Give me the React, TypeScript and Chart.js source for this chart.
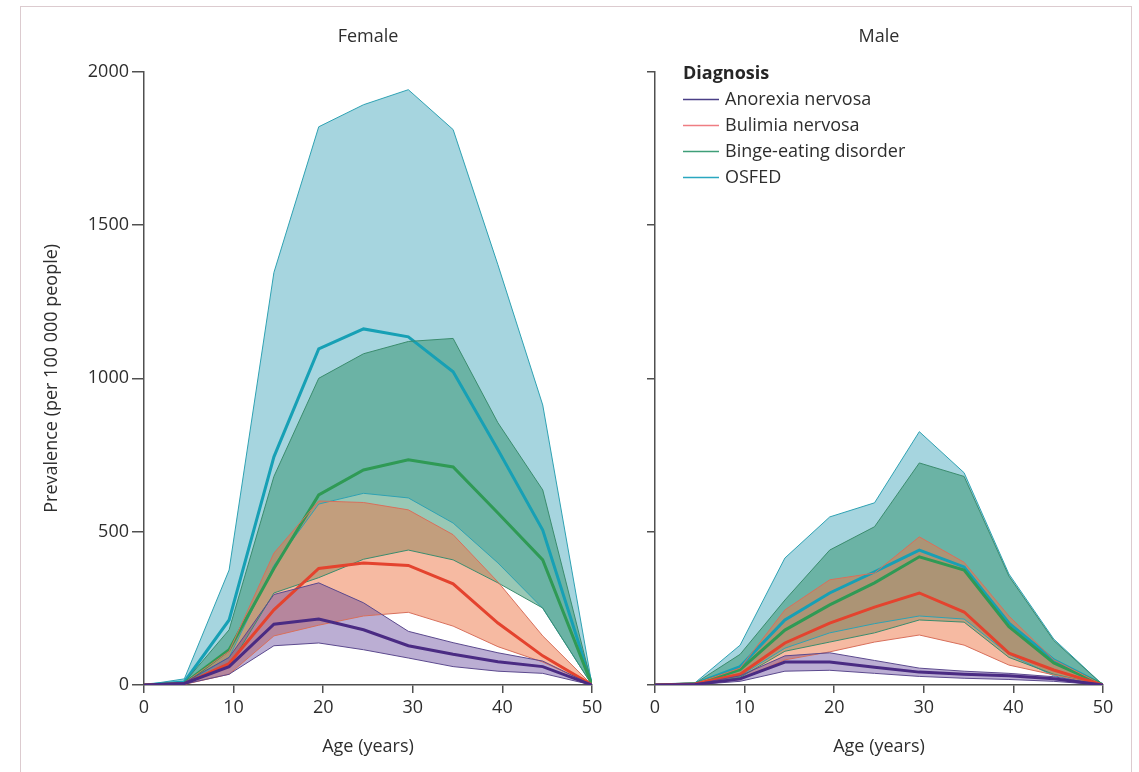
import React, { useEffect, useRef } from "react";
import { Chart, registerables } from "chart.js";

Chart.register(...registerables);

// ---------- data ----------
const ages = [0, 4.5, 9.5, 14.5, 19.5, 24.5, 29.5, 34.5, 39.5, 44.5, 50];
const xTicks = [0, 10, 20, 30, 40, 50];
const yTicks = [0, 500, 1000, 1500, 2000];
const diagnoses = ["Anorexia nervosa", "Bulimia nervosa", "Binge-eating disorder", "OSFED"];

// Female
const anFMean = [0, 5, 60, 198, 215, 180, 128, 100, 76, 60, 0];
const anFUpper = [0, 8, 90, 295, 333, 268, 175, 138, 105, 78, 0];
const anFLower = [0, 3, 35, 128, 137, 115, 88, 60, 45, 38, 0];
const buFMean = [0, 4, 70, 245, 380, 398, 390, 330, 202, 95, 0];
const buFUpper = [0, 7, 110, 430, 600, 595, 571, 490, 336, 160, 0];
const buFLower = [0, 2, 35, 160, 195, 225, 237, 192, 125, 75, 0];
const bedFMean = [0, 5, 115, 380, 620, 701, 734, 711, 561, 408, 0];
const bedFUpper = [0, 8, 180, 680, 1000, 1080, 1120, 1130, 855, 636, 0];
const bedFLower = [0, 3, 60, 300, 350, 410, 440, 408, 333, 251, 0];
const osFMean = [0, 10, 212, 744, 1096, 1161, 1135, 1021, 767, 505, 0];
const osFUpper = [0, 20, 375, 1345, 1820, 1892, 1941, 1811, 1370, 913, 0];
const osFLower = [0, 3, 90, 390, 590, 625, 610, 528, 398, 250, 0];

// Male
const anMMean = [0, 2, 20, 75, 75, 58, 42, 35, 30, 20, 0];
const anMUpper = [0, 3, 30, 95, 105, 80, 55, 45, 38, 27, 0];
const anMLower = [0, 1, 12, 45, 48, 38, 28, 22, 18, 12, 0];
const buMMean = [0, 3, 35, 137, 202, 254, 300, 238, 104, 49, 0];
const buMUpper = [0, 5, 55, 245, 343, 365, 483, 400, 225, 82, 0];
const buMLower = [0, 1, 18, 82, 108, 140, 163, 130, 65, 33, 0];
const bedMMean = [0, 3, 50, 179, 261, 333, 418, 375, 190, 72, 0];
const bedMUpper = [0, 6, 100, 277, 440, 516, 724, 680, 355, 145, 0];
const bedMLower = [0, 1, 25, 110, 140, 170, 212, 205, 90, 35, 0];
const osMMean = [0, 4, 60, 212, 300, 369, 440, 385, 202, 82, 0];
const osMUpper = [0, 8, 130, 414, 548, 594, 826, 692, 362, 150, 0];
const osMLower = [0, 2, 30, 120, 170, 200, 225, 215, 100, 30, 0];

// ---------- styles ----------
const FONT = '"Open Sans", "DejaVu Sans", sans-serif';
const TEXT = "#2e2e2e";
const AXIS = "#505050";
const lineColors = ["#4a2b83", "#e4432e", "#2f9a55", "#17a0b5"];
const legendColors = ["#4a3f86", "#ef7d82", "#3f9e78", "#2aa7c0"];
const bandEdge = ["#5c4a8e", "#d8705c", "#3b8c6e", "#2fa2b3"];
const bandFill = [
  "rgba(92, 62, 150, 0.42)",
  "rgba(238, 118, 70, 0.5)",
  "rgba(50, 146, 108, 0.5)",
  "rgba(77, 172, 192, 0.5)",
];

type Series = { mean: number[]; upper: number[]; lower: number[] };

const femaleSeries: Series[] = [
  { mean: anFMean, upper: anFUpper, lower: anFLower },
  { mean: buFMean, upper: buFUpper, lower: buFLower },
  { mean: bedFMean, upper: bedFUpper, lower: bedFLower },
  { mean: osFMean, upper: osFUpper, lower: osFLower },
];
const maleSeries: Series[] = [
  { mean: anMMean, upper: anMUpper, lower: anMLower },
  { mean: buMMean, upper: buMUpper, lower: buMLower },
  { mean: bedMMean, upper: bedMUpper, lower: bedMLower },
  { mean: osMMean, upper: osMUpper, lower: osMLower },
];

const toPts = (vals: number[]) => vals.map((y, i) => ({ x: ages[i], y }));

function buildDatasets(series: Series[]) {
  const ds: any[] = [];
  series.forEach((s, i) => {
    ds.push({
      label: diagnoses[i],
      data: toPts(s.mean),
      borderColor: lineColors[i],
      borderWidth: 3,
      fill: false,
      pointRadius: 0,
      tension: 0,
    });
    ds.push({
      label: diagnoses[i] + " upper",
      data: toPts(s.upper),
      borderColor: bandEdge[i],
      borderWidth: 1,
      fill: false,
      pointRadius: 0,
      tension: 0,
    });
    ds.push({
      label: diagnoses[i] + " lower",
      data: toPts(s.lower),
      borderColor: bandEdge[i],
      borderWidth: 1,
      fill: "-1",
      backgroundColor: bandFill[i],
      pointRadius: 0,
      tension: 0,
    });
  });
  return ds;
}

const legendPlugin = {
  id: "diagLegend",
  afterDraw(chart: any) {
    if (!chart.options.plugins.diagLegend?.show) return;
    const { ctx, chartArea } = chart;
    const x0 = chartArea.left + 28;
    ctx.save();
    ctx.textBaseline = "middle";
    ctx.textAlign = "left";
    ctx.font = `bold 18px ${FONT}`;
    ctx.fillStyle = "#262626";
    ctx.fillText("Diagnosis", x0, chartArea.top + 2);
    diagnoses.forEach((d, i) => {
      const y = chartArea.top + 28 + i * 26;
      ctx.strokeStyle = legendColors[i];
      ctx.lineWidth = 1.5;
      ctx.beginPath();
      ctx.moveTo(x0, y);
      ctx.lineTo(x0 + 36, y);
      ctx.stroke();
      ctx.font = `18px ${FONT}`;
      ctx.fillStyle = TEXT;
      ctx.fillText(d, x0 + 42, y);
    });
    ctx.restore();
  },
};

function makeConfig(series: Series[], title: string, isLeft: boolean): any {
  return {
    type: "line",
    data: { datasets: buildDatasets(series) },
    plugins: [legendPlugin],
    options: {
      animation: false,
      responsive: false,
      maintainAspectRatio: false,
      devicePixelRatio: 1,
      layout: { padding: { left: 0, right: isLeft ? 18 : 36, top: 0, bottom: 0 } },
      plugins: {
        legend: { display: false },
        tooltip: { enabled: false },
        filler: { drawTime: "beforeDatasetsDraw" },
        diagLegend: { show: !isLeft },
        title: {
          display: true,
          text: title,
          fullSize: false,
          color: TEXT,
          font: { family: FONT, size: 18, weight: "normal" },
          padding: { top: 26, bottom: 24 },
        },
      },
      scales: {
        x: {
          type: "linear",
          min: 0,
          max: 50,
          afterBuildTicks: (s: any) => {
            s.ticks = xTicks.map((v) => ({ value: v }));
          },
          afterFit: (s: any) => {
            s.height = 87;
          },
          grid: {
            display: true,
            drawOnChartArea: false,
            drawTicks: true,
            tickLength: 8,
            color: AXIS,
            lineWidth: 1.5,
          },
          border: { display: true, color: AXIS, width: 1.5 },
          ticks: {
            color: TEXT,
            font: { family: FONT, size: 18 },
            padding: 4,
            maxRotation: 0,
            autoSkip: false,
            callback: (v: any) => String(v),
          },
          title: {
            display: true,
            text: "Age (years)",
            color: TEXT,
            font: { family: FONT, size: 18 },
            padding: { top: 0, bottom: 14 },
          },
        },
        y: {
          type: "linear",
          min: 0,
          max: 2000,
          afterBuildTicks: (s: any) => {
            s.ticks = yTicks.map((v) => ({ value: v }));
          },
          afterFit: (s: any) => {
            s.width = isLeft ? 144 : 45;
          },
          grid: {
            display: true,
            drawOnChartArea: false,
            drawTicks: true,
            tickLength: isLeft ? 12 : 8,
            color: AXIS,
            lineWidth: 1.5,
          },
          border: { display: true, color: AXIS, width: 1.5 },
          ticks: {
            display: isLeft,
            color: TEXT,
            font: { family: FONT, size: 18 },
            padding: 3,
            callback: (v: any) => String(v),
          },
          title: {
            display: isLeft,
            text: "Prevalence (per 100 000 people)",
            color: TEXT,
            font: { family: FONT, size: 18 },
            padding: { top: 41, bottom: 0 },
          },
        },
      },
    },
  };
}

export default function App() {
  const leftRef = useRef<HTMLCanvasElement | null>(null);
  const rightRef = useRef<HTMLCanvasElement | null>(null);

  useEffect(() => {
    const c1 = new Chart(leftRef.current as HTMLCanvasElement, makeConfig(femaleSeries, "Female", true));
    const c2 = new Chart(rightRef.current as HTMLCanvasElement, makeConfig(maleSeries, "Male", false));
    return () => {
      c1.destroy();
      c2.destroy();
    };
  }, []);

  return (
    <div
      style={{
        position: "fixed",
        left: 0,
        top: 0,
        width: 1139,
        height: 772,
        background: "#ffffff",
        overflow: "hidden",
      }}
    >
      <div
        style={{
          position: "absolute",
          left: 20,
          top: 6,
          width: 1112,
          height: 820,
          border: "1.5px solid #dccbcf",
          boxSizing: "border-box",
        }}
      />
      <canvas
        ref={leftRef}
        width={610}
        height={772}
        style={{ position: "absolute", left: 0, top: 0, width: 610, height: 772 }}
      />
      <canvas
        ref={rightRef}
        width={529}
        height={772}
        style={{ position: "absolute", left: 610, top: 0, width: 529, height: 772 }}
      />
    </div>
  );
}
